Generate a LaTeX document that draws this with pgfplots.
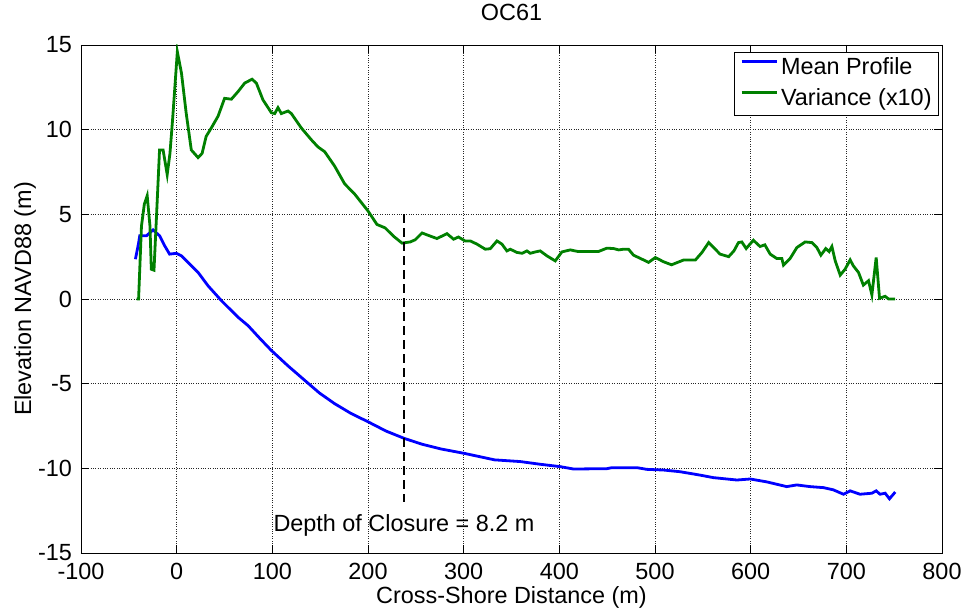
\documentclass[border=0pt]{standalone}
\usepackage{fontspec}
\setmainfont{Liberation Sans}
\usepackage{pgfplots}
\pgfplotsset{compat=1.18}
\definecolor{mgreen}{rgb}{0,0.5,0}
\newcommand{\fs}{\fontsize{23.5}{28}\selectfont}
\begin{document}
\fs
\begin{tikzpicture}
\begin{axis}[
  name=ax,
  scale only axis,
  width=861bp, height=508bp,
  xmin=-100, xmax=800, ymin=-15, ymax=15,
  xtick={-100,0,...,800}, ytick={-15,-10,...,15},
  /pgf/number format/assume math mode=true,
  tick align=inside, xtick pos=both, ytick pos=both,
  major tick length=8bp,
  tick style={black, line width=0.6bp},
  axis line style={black, line width=0.8bp},
  grid=major,
  major grid style={dotted, black!85, line width=0.6bp},
  ticklabel style={font=\fs},
  xticklabel style={yshift=-2bp},
  yticklabel style={xshift=-1bp},
  title={OC61},
  title style={at={(axis description cs:0.5,1.053)}, anchor=center, font=\fs},
  xlabel={Cross-Shore Distance (m)},
  xlabel style={at={(axis description cs:0.5,-0.0866)}, anchor=center, font=\fs},
  ylabel={Elevation NAVD88 (m)},
  ylabel style={at={(axis description cs:-0.065,0.5)}, anchor=center, rotate=0, font=\fs},
  legend style={at={(rel axis cs:0.9965,0.987)}, anchor=north east, draw=black, line width=0.8bp, fill=white,
    font=\fs, inner xsep=6bp, inner ysep=4bp, row sep=6.5bp, column sep=2bp,
    nodes={inner sep=1bp, text height=0.74em, text depth=0.22em}},
  legend cell align=left,
  legend image code/.code={\draw[#1, line width=2.8bp] (0bp,0.3em) -- (35bp,0.3em);},
]
\addplot[blue, line width=2.8bp] coordinates {
(-43.1,2.35) (-39.8,3.3) (-38.6,3.73) (-31.6,3.73) (-24.7,4.08) (-17.8,3.73) (-12.5,3.14) (-7.4,2.65) (-0.3,2.7) (5,2.55) (11.9,2.16) (22.4,1.57) (32.8,0.78) (46.8,-0.1) (64.2,-1.08) (74.6,-1.57) (86.5,-2.3) (99,-3.04) (116.4,-3.95) (133.8,-4.8) (149.2,-5.55) (165.1,-6.18) (182,-6.75) (200,-7.25) (218.9,-7.8) (238.3,-8.24) (256.7,-8.58) (276.6,-8.86) (301,-9.12) (332.3,-9.5) (359.1,-9.6) (380,-9.76) (400.9,-9.9) (414.8,-10.04) (449.6,-10.02) (455.1,-9.96) (481.1,-9.96) (491.4,-10.06) (508.8,-10.1) (526.2,-10.2) (547.1,-10.4) (561.1,-10.55) (585.6,-10.69) (599.5,-10.63) (616.8,-10.8) (637.7,-11.08) (648.1,-10.98) (662.1,-11.08) (676.1,-11.14) (686.4,-11.27) (697,-11.53) (704,-11.33) (714.3,-11.53) (726.7,-11.47) (731.2,-11.33) (735.2,-11.53) (740.6,-11.47) (745.1,-11.8) (751.1,-11.4)
};
\addlegendentry{Mean Profile}
\addplot[mgreen, line width=2.8bp] coordinates {
(-41.8,0) (-39.8,0) (-36.8,4.3) (-33.8,5.6) (-30.8,6.1) (-27.9,4.3) (-26.5,1.76) (-23.7,1.7) (-20.9,5.1) (-17.9,8.8) (-14.2,8.8) (-9.9,7.35) (-7,8.6) (-4,10.8) (0.7,14.6) (5,13.35) (9.9,11) (15.3,8.8) (22.4,8.35) (26.6,8.6) (30.8,9.6) (36.2,10.1) (43.3,10.8) (50.1,11.85) (57.2,11.8) (64.2,12.25) (71.1,12.75) (78.8,12.98) (83.3,12.75) (90.2,11.76) (99,11) (102.5,10.95) (105.9,11.3) (109.4,10.95) (116.4,11.1) (119.9,10.95) (130.3,10.1) (140.8,9.4) (147.7,8.98) (154.7,8.7) (165.1,7.85) (175.6,6.8) (186,6.2) (200,5.2) (209.4,4.4) (217.9,4.2) (226.8,3.7) (235.6,3.3) (244.2,3.37) (249.4,3.5) (256.5,3.9) (263.4,3.75) (272.1,3.57) (282.5,3.86) (289.5,3.53) (294.5,3.66) (301.4,3.43) (306.9,3.43) (313.9,3.24) (322.6,2.94) (327.8,2.97) (334.8,3.43) (340,3.24) (345.2,2.84) (348.7,2.94) (355.6,2.75) (361.1,2.7) (366.1,2.84) (369.6,2.7) (375,2.78) (380,2.84) (387,2.55) (395.7,2.25) (402.7,2.78) (411.4,2.9) (419.8,2.8) (440.7,2.8) (449.6,3.0) (456.6,2.98) (462.1,2.9) (467.1,2.94) (472.3,2.94) (477.5,2.59) (487.9,2.31) (493.2,2.16) (500.4,2.45) (508.9,2.2) (517.3,2.02) (529.8,2.3) (542.2,2.3) (549.1,2.75) (556.1,3.33) (561.1,3.05) (568,2.65) (577,2.5) (582.5,2.84) (587.2,3.33) (590.7,3.37) (595.3,2.98) (602.8,3.47) (609.8,3.1) (614.8,3.2) (620.4,2.65) (627.3,2.39) (632.6,2.39) (634.3,2.0) (641.2,2.39) (648.3,3.04) (657,3.37) (664,3.33) (669.2,3.04) (673.4,2.59) (678.5,2.98) (682,2.8) (684.9,3.1) (688.4,2.25) (693.6,1.41) (698.7,1.76) (704,2.31) (707.3,1.96) (712.7,1.57) (717.8,0.82) (723.2,1.08) (726.7,0.24) (731.2,2.45) (734.7,0.04) (740.5,0.16) (744.1,0) (751.1,0)
};
\addlegendentry{Variance (x10)}
\addplot[black, line width=1.8bp, dash pattern=on 9bp off 5bp, forget plot] coordinates {(237.6,5) (237.6,-12)};
\node[anchor=center, font=\fs] at (axis cs:237.6,-13.35) {Depth of Closure = 8.2 m};
\end{axis}
\pgfresetboundingbox
\useasboundingbox ([shift={(-81bp,-58bp)}]ax.south west) rectangle ([shift={(24bp,45bp)}]ax.north east);
\end{tikzpicture}
\end{document}
